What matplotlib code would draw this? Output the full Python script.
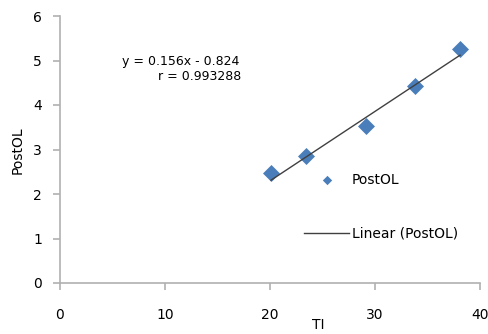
import matplotlib
matplotlib.use("Agg")
import matplotlib.pyplot as plt
import numpy as np

plt.rcParams['font.family'] = ['DejaVu Sans']

ti = [20.1, 23.4, 29.1, 33.8, 38.1]
postol = [2.48, 2.85, 3.52, 4.43, 5.25]
slope = 0.156
intercept = -0.824
eq_text = "y = 0.156x - 0.824"
r_text = "r = 0.993288"
xticks = [0, 10, 20, 30, 40]
yticks = [0, 1, 2, 3, 4, 5, 6]

W, H = 489, 334
fig = plt.figure(figsize=(W/100, H/100), dpi=100)
ax = fig.add_axes([60/W, 1-283/H, 420/W, 267/H])

ax.scatter(ti, postol, marker='D', s=75, color='#4a7ebb', zorder=3, label='PostOL', linewidths=0)
xl = np.array([min(ti), max(ti)])
ax.plot(xl, slope*xl + intercept, color='#404040', lw=1, zorder=4, label='Linear (PostOL)')

ax.set_xlim(0, 40)
ax.set_ylim(0, 6)
ax.set_xticks(xticks)
ax.set_yticks(yticks)
for s in ['top', 'right']:
    ax.spines[s].set_visible(False)
for s in ['left', 'bottom']:
    ax.spines[s].set_color('#b0b0b0')
    ax.spines[s].set_linewidth(1.2)
ax.tick_params(axis='both', colors='#b0b0b0', labelcolor='black', labelsize=10, length=5, width=1.2)
ax.tick_params(axis='x', pad=13)
ax.tick_params(axis='y', pad=8)

fig.text(318/W, 1-325/H, "TI", ha='center', va='center', fontsize=10)
fig.text(18/W, 1-150/H, "PostOL", ha='center', va='center', rotation=90, fontsize=10)

fig.text(181/W, 1-61/H, eq_text, ha='center', va='center', fontsize=9)
fig.text(200/W, 1-77/H, r_text, ha='center', va='center', fontsize=9)

leg = ax.legend(loc='upper left', bbox_to_anchor=((292-60)/420, 1-(160-16)/267), frameon=False,
                fontsize=10, markerscale=0.55, handlelength=3.2, labelspacing=2.9, handletextpad=0.2,
                borderpad=0.4)
fig.savefig("out.png", dpi=100)
